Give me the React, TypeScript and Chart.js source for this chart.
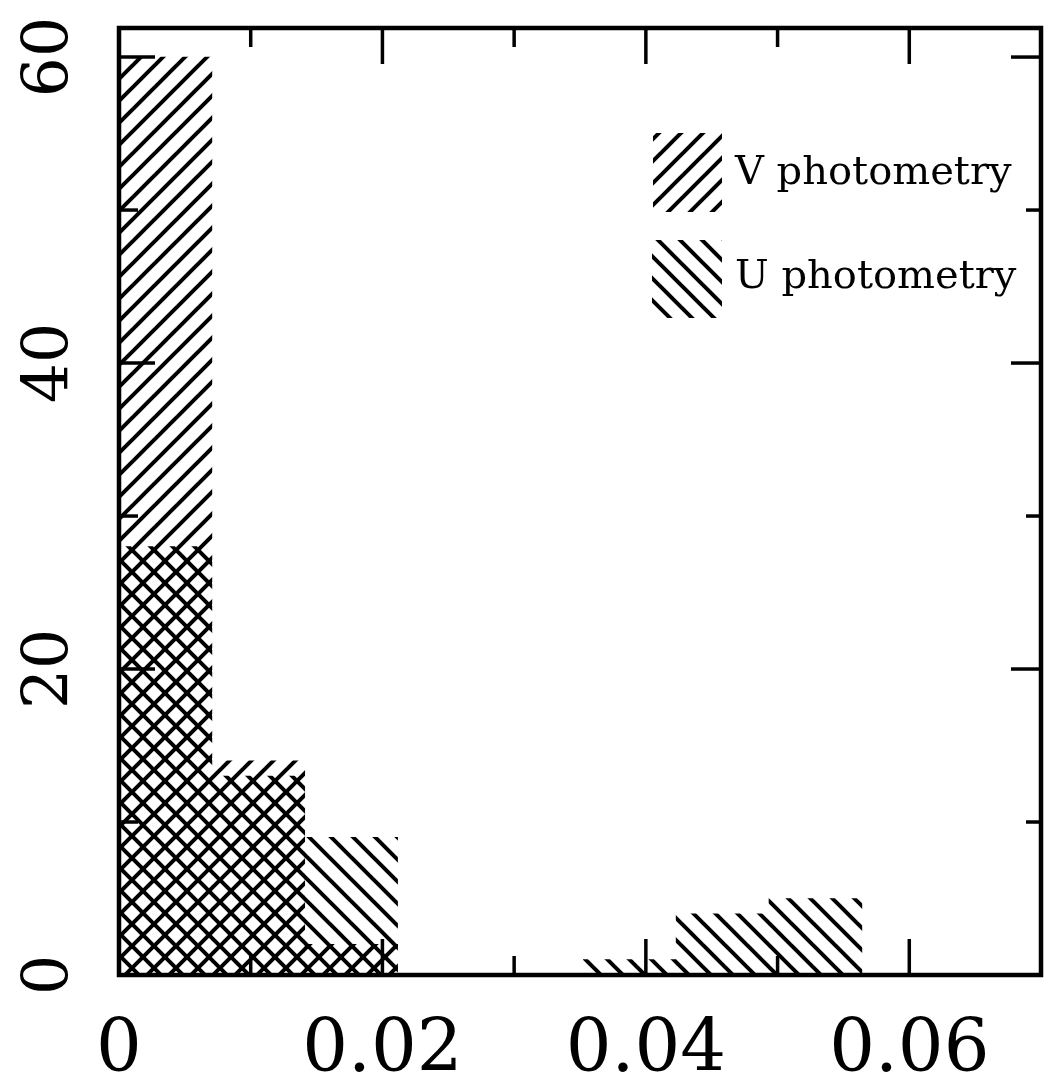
import React, { useEffect, useRef } from 'react';
import { Chart, registerables } from 'chart.js';

Chart.register(...registerables);

// ---- data ----
const binWidth = 0.00705;
const binStarts = [0, 0.00705, 0.0141, 0.02115, 0.0282, 0.03525, 0.0423, 0.04935];
const vCounts = [60, 14, 2, 0, 0, 0, 0, 0];
const uCounts = [28, 13, 9, 0, 0, 1, 4, 5];

const xTickValues = [0, 0.02, 0.04, 0.06];
const xTickLabels = ['0', '0.02', '0.04', '0.06'];
const xMinorValues = [0.01, 0.03, 0.05];
const yTickValues = [0, 20, 40, 60];
const yTickLabels = ['0', '20', '40', '60'];
const yMinorValues = [10, 30, 50];
const legendLabels = ['V photometry', 'U photometry'];

function makeHatch(ctx: CanvasRenderingContext2D, dir: 1 | -1): CanvasPattern | string {
  const s = 22;
  const c = document.createElement('canvas');
  c.width = s;
  c.height = s;
  const g = c.getContext('2d');
  if (!g) return '#000';
  g.strokeStyle = '#000';
  g.lineWidth = 4;
  for (let k = -1; k <= 1; k++) {
    g.beginPath();
    if (dir === 1) {
      g.moveTo(k * s - 3, s + 3);
      g.lineTo(k * s + s + 3, -3);
    } else {
      g.moveTo(k * s - 3, -3);
      g.lineTo(k * s + s + 3, s + 3);
    }
    g.stroke();
  }
  return ctx.createPattern(c, 'repeat') || '#000';
}

export default function App() {
  const ref = useRef<HTMLCanvasElement | null>(null);

  useEffect(() => {
    const canvas = ref.current;
    if (!canvas) return;
    const ctx0 = canvas.getContext('2d') as CanvasRenderingContext2D;
    const hatchV = makeHatch(ctx0, 1);
    const hatchU = makeHatch(ctx0, -1);

    const framePlugin = {
      id: 'framePlugin',
      afterDraw(chart: any) {
        const { ctx, chartArea: a, scales } = chart;
        const x = scales.x;
        const y = scales.y;
        const line = (x1: number, y1: number, x2: number, y2: number) => {
          ctx.beginPath();
          ctx.moveTo(x1, y1);
          ctx.lineTo(x2, y2);
          ctx.stroke();
        };
        ctx.save();
        ctx.strokeStyle = '#000';
        ctx.lineWidth = 3.5;
        const major = 36;
        const minor = 19;
        for (const v of xTickValues) {
          const px = x.getPixelForValue(v);
          line(px, a.bottom, px, a.bottom - major);
          line(px, a.top, px, a.top + major);
        }
        for (const v of xMinorValues) {
          const px = x.getPixelForValue(v);
          line(px, a.bottom, px, a.bottom - minor);
          line(px, a.top, px, a.top + minor);
        }
        for (const v of yTickValues) {
          const py = y.getPixelForValue(v);
          line(a.left, py, a.left + major, py);
          line(a.right, py, a.right - major + 6, py);
        }
        for (const v of yMinorValues) {
          const py = y.getPixelForValue(v);
          line(a.left, py, a.left + minor, py);
          line(a.right, py, a.right - minor + 4, py);
        }
        ctx.lineWidth = 4.5;
        ctx.strokeRect(a.left, a.top, a.right - a.left, a.bottom - a.top);

        // tick labels
        ctx.fillStyle = '#000';
        ctx.font = '72px "DejaVu Serif"';
        ctx.textAlign = 'center';
        ctx.textBaseline = 'alphabetic';
        xTickValues.forEach((v, i) => {
          ctx.fillText(xTickLabels[i], x.getPixelForValue(v), a.bottom + 96);
        });
        ctx.font = '63px "DejaVu Serif"';
        yTickValues.forEach((v, i) => {
          ctx.save();
          ctx.translate(a.left - 51, y.getPixelForValue(v));
          ctx.rotate(-Math.PI / 2);
          ctx.fillText(yTickLabels[i], 0, 0);
          ctx.restore();
        });

        // legend
        const boxes = [
          { pat: hatchV, x: 653, y: 133, w: 69, h: 79, ty: 184 },
          { pat: hatchU, x: 652, y: 240, w: 70, h: 78, ty: 288 },
        ];
        ctx.font = '40px "DejaVu Serif"';
        ctx.textAlign = 'left';
        boxes.forEach((b, i) => {
          ctx.fillStyle = b.pat as any;
          ctx.fillRect(b.x, b.y, b.w, b.h);
          ctx.fillStyle = '#000';
          ctx.fillText(legendLabels[i], 735, b.ty);
        });
        ctx.restore();
      },
    };

    const chart = new Chart(canvas, {
      type: 'bar',
      data: {
        datasets: [
          {
            label: legendLabels[0],
            data: binStarts.map((s, i) => ({ x: s + binWidth / 2, y: vCounts[i] })),
            backgroundColor: hatchV as any,
            borderWidth: 0,
            grouped: false,
            barPercentage: 1,
            categoryPercentage: 1,
          } as any,
          {
            label: legendLabels[1],
            data: binStarts.map((s, i) => ({ x: s + binWidth / 2, y: uCounts[i] })),
            backgroundColor: hatchU as any,
            borderWidth: 0,
            grouped: false,
            barPercentage: 1,
            categoryPercentage: 1,
          } as any,
        ],
      },
      options: {
        animation: false,
        responsive: false,
        devicePixelRatio: 1,
        events: [],
        layout: { padding: { left: 119, right: 3, top: 28, bottom: 100 } },
        scales: {
          x: { type: 'linear', min: 0, max: 0.07, offset: false, display: false },
          y: { type: 'linear', min: 0, max: 61.9, display: false },
        },
        plugins: {
          legend: { display: false },
          tooltip: { enabled: false },
        },
      },
      plugins: [framePlugin],
    });
    return () => chart.destroy();
  }, []);

  return (
    <div style={{ position: 'absolute', left: 0, top: 0, width: 1044, height: 1075, background: '#fff' }}>
      <canvas ref={ref} width={1044} height={1075} style={{ display: 'block' }} />
    </div>
  );
}
